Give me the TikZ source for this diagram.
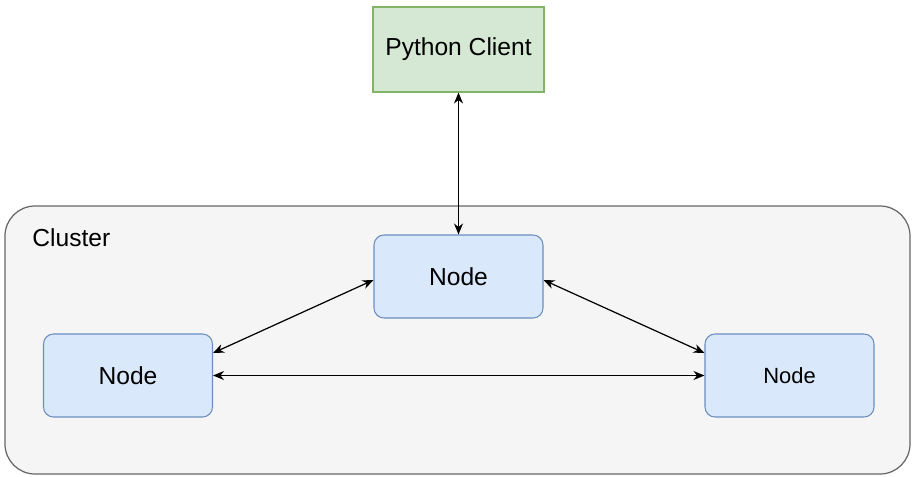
\documentclass[tikz,border=0pt]{standalone}
\usepackage{fontspec}
\setmainfont{Liberation Sans}
\usepackage{tikz}
\usetikzlibrary{arrows.meta,positioning,calc}
\definecolor{clientfill}{HTML}{D5E8D4}
\definecolor{clientline}{HTML}{82B366}
\definecolor{nodefill}{HTML}{DAE8FC}
\definecolor{nodeline}{HTML}{6C8EBF}
\definecolor{clusterfill}{HTML}{F5F5F5}
\definecolor{clusterline}{HTML}{666666}

\begin{document}
\begin{tikzpicture}[
  clientbox/.style={rectangle, draw=clientline, fill=clientfill, line width=0.6pt, minimum width=3.42cm, minimum height=1.70cm, align=center, font=\fontsize{14}{17}\selectfont},
  srvbox/.style={rectangle, rounded corners=0.2cm, draw=nodeline, fill=nodefill, line width=0.6pt, minimum width=3.38cm, minimum height=1.66cm, align=center, font=\fontsize{14}{17}\selectfont},
  link/.style={<->, >={Stealth[length=2.2mm,width=1.8mm]}, line width=0.7pt, black}
]
\useasboundingbox (0,0) rectangle (18.24,-9.52);

% cluster background
\draw[draw=clusterline, fill=clusterfill, line width=0.7pt, rounded corners=0.6cm] (0.1,-4.12) rectangle (18.2,-9.48);
\node[anchor=west, font=\fontsize{14}{17}\selectfont, inner sep=0pt] (clusterlbl) at (0.64,-4.76) {Cluster};

\node[clientbox] (client) at (9.17,-0.99) {Python Client};

\node[srvbox] (nodetop)   at (9.17,-5.53)  {Node};
\node[srvbox] (nodeleft)  at (2.56,-7.51)  {Node};
\node[srvbox, font=\fontsize{12.5}{15}\selectfont] (noderight) at (15.79,-7.51) {Node};

\draw[link] (client.south) -- (nodetop.north);
\draw[link] ([yshift=-0.07cm]nodetop.west) -- ([yshift=0.45cm]nodeleft.east);
\draw[link] ([yshift=-0.07cm]nodetop.east) -- ([yshift=0.45cm]noderight.west);
\draw[link] (nodeleft.east) -- (noderight.west);
\end{tikzpicture}
\end{document}
